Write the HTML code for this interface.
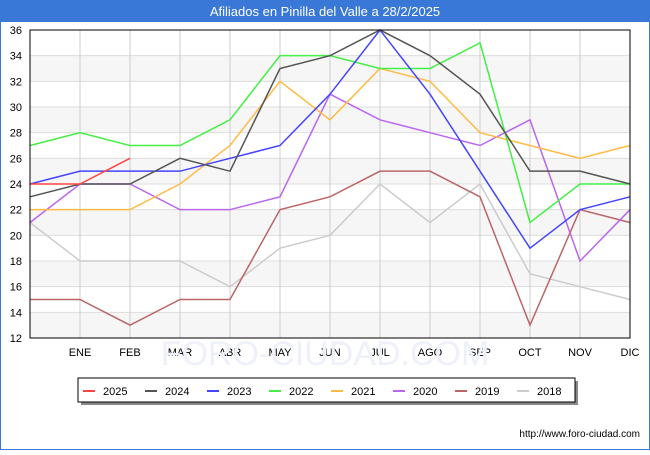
<!DOCTYPE html>
<html><head><meta charset="utf-8"><style>
body{margin:0;width:650px;height:450px;overflow:hidden;background:#fff;font-family:"Liberation Sans",sans-serif}
</style></head><body>
<svg width="650" height="450" font-family="Liberation Sans, sans-serif">
<rect x="0" y="0" width="650" height="450" fill="#fff" stroke="#3a78d8" stroke-width="2"/>
<rect x="0" y="0" width="650" height="22" fill="#3a78d8"/>
<text x="325" y="16" text-anchor="middle" fill="#fff" font-size="13">Afiliados en Pinilla del Valle a 28/2/2025</text>
<g id="bands"></g><g id="grid"></g><g id="axes"></g><g id="lines"></g>
<rect x="30" y="30" width="600" height="308" fill="none" stroke="#000"/>
<text x="325" y="365" text-anchor="middle" font-size="34" fill="#eef0fa">FORO-CIUDAD.COM</text>
<rect x="81" y="381" width="497" height="24" fill="#888"/>
<rect x="78" y="378" width="497" height="24" fill="#fff" stroke="#000"/>
<g id="legend"></g>
<text x="640" y="437" text-anchor="end" font-size="10" fill="#000">http://www.foro-ciudad.com</text>
</svg>
<script>
const months=["","ENE","FEB","MAR","ABR","MAY","JUN","JUL","AGO","SEP","OCT","NOV","DIC"];
const yTicks=[12,14,16,18,20,22,24,26,28,30,32,34,36];
const seriesNames=["2025","2024","2023","2022","2021","2020","2019","2018"];
const seriesColors=["#ff4444","#555555","#4444ff","#44ee44","#ffbb44","#bb66ee","#bb6666","#cccccc"];
const s2025=[24,24,26];
const s2024=[23,24,24,26,25,33,34,36,34,31,25,25,24];
const s2023=[24,25,25,25,26,27,31,36,31,25,19,22,23];
const s2022=[27,28,27,27,29,34,34,33,33,35,21,24,24];
const s2021=[22,22,22,24,27,32,29,33,32,28,27,26,27];
const s2020=[21,24,24,22,22,23,31,29,28,27,29,18,22];
const s2019=[15,15,13,15,15,22,23,25,25,23,13,22,21];
const s2018=[21,18,18,18,16,19,20,24,21,24,17,16,15];
const allSeries=[s2025,s2024,s2023,s2022,s2021,s2020,s2019,s2018];
const NS="http://www.w3.org/2000/svg";
const X=i=>30+i*50, Y=v=>338-(v-12)*(308/24);
function mk(t,a,p){const e=document.createElementNS(NS,t);for(const k in a)e.setAttribute(k,a[k]);document.getElementById(p).appendChild(e);return e;}
for(let i=0;i<yTicks.length-1;i+=2){
 const b=mk("rect",{x:30,y:Y(yTicks[i+1]),width:600,height:Y(yTicks[i])-Y(yTicks[i+1]),fill:"#f6f6f6"},"bands");
 
 
}
yTicks.forEach(v=>{
 const l=mk("line",{x1:30,x2:630,y1:Y(v),y2:Y(v),stroke:"#dddddd"},"grid");
 
 
 const t=mk("text",{x:22,y:Y(v)+4,"text-anchor":"end","font-size":11},"axes");t.textContent=v;
 
 
});
months.forEach((m,i)=>{
 if(i===0)return;
 const l=mk("line",{x1:X(i),x2:X(i),y1:30,y2:338,stroke:"#cccccc"},"grid");
 
 
 const t=mk("text",{x:X(i),y:356,"text-anchor":"middle","font-size":11},"axes");t.textContent=m;
 
 
});
for(let s=allSeries.length-1;s>=0;s--){
 const p=mk("polyline",{points:allSeries[s].map((v,i)=>X(i)+","+Y(v)).join(" "),fill:"none",stroke:seriesColors[s],"stroke-width":1.5},"lines");
 
 
}
seriesNames.forEach((n,i)=>{
 const x=83+i*62;
 const l=mk("line",{x1:x,x2:x+12,y1:391,y2:391,stroke:seriesColors[i],"stroke-width":2},"legend");
 
 
 const t=mk("text",{x:x+20,y:395,"font-size":11},"legend");t.textContent=n;
 
 
});
</script>
</body></html>
